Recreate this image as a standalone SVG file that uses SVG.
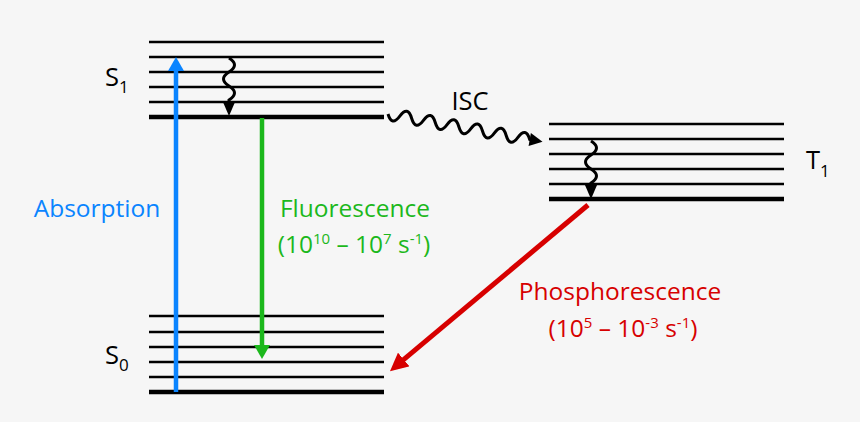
<svg xmlns="http://www.w3.org/2000/svg" width="860" height="422" viewBox="0 0 860 422">
<defs>
<style>
.lv{stroke:#000;stroke-width:2.5;fill:none}
.lv0{stroke:#000;stroke-width:4.5;fill:none}
.txt{font-family:"Open Sans","Noto Sans","Liberation Sans",sans-serif;font-size:24.5px}
.big{font-size:25.5px}
.sub{font-size:17px}
.sup{font-size:15px}
.wave{stroke:#000;stroke-width:3;fill:none}
</style>
<marker id="hb" viewBox="0 0 14 16" refX="1" refY="8" markerWidth="14" markerHeight="16" markerUnits="userSpaceOnUse" orient="auto"><path d="M0,0 L14,8 L0,16 Z" fill="#0a84ff"/></marker>
<marker id="hg" viewBox="0 0 14 16" refX="1" refY="8" markerWidth="14" markerHeight="16" markerUnits="userSpaceOnUse" orient="auto"><path d="M0,0 L14,8 L0,16 Z" fill="#1cb81c"/></marker>
<marker id="hr" viewBox="0 0 18 18" refX="1" refY="9" markerWidth="18" markerHeight="18" markerUnits="userSpaceOnUse" orient="auto"><path d="M0,0 L18,9 L0,18 Z" fill="#d70000"/></marker>
</defs>
<rect width="860" height="422" fill="#f6f6f6"/>

<g id="S1">
<line class="lv" x1="149" y1="42" x2="384" y2="42"/>
<line class="lv" x1="149" y1="57" x2="384" y2="57"/>
<line class="lv" x1="149" y1="72" x2="384" y2="72"/>
<line class="lv" x1="149" y1="87" x2="384" y2="87"/>
<line class="lv" x1="149" y1="102" x2="384" y2="102"/>
<line class="lv0" x1="149" y1="117" x2="384" y2="117"/>
<text class="txt big" x="105" y="86">S<tspan class="sub" dy="7">1</tspan></text>
</g>

<g id="S0">
<line class="lv" x1="149" y1="316" x2="384" y2="316"/>
<line class="lv" x1="149" y1="332" x2="384" y2="332"/>
<line class="lv" x1="149" y1="347" x2="384" y2="347"/>
<line class="lv" x1="149" y1="362" x2="384" y2="362"/>
<line class="lv" x1="149" y1="377" x2="384" y2="377"/>
<line class="lv0" x1="149" y1="392" x2="384" y2="392"/>
<text class="txt big" x="105" y="364">S<tspan class="sub" dy="7">0</tspan></text>
</g>

<g id="T1">
<line class="lv" x1="549" y1="124" x2="784" y2="124"/>
<line class="lv" x1="549" y1="139" x2="784" y2="139"/>
<line class="lv" x1="549" y1="154" x2="784" y2="154"/>
<line class="lv" x1="549" y1="169" x2="784" y2="169"/>
<line class="lv" x1="549" y1="184" x2="784" y2="184"/>
<line class="lv0" x1="549" y1="199" x2="784" y2="199"/>
<text class="txt big" x="806" y="169">T<tspan class="sub" dy="8">1</tspan></text>
</g>

<g id="connectors">
<line x1="176" y1="392" x2="176" y2="70" stroke="#0a84ff" stroke-width="4.5" marker-end="url(#hb)"/>
<line x1="262" y1="118" x2="262" y2="346" stroke="#1cb81c" stroke-width="4.5" marker-end="url(#hg)"/>
<line x1="588" y1="205" x2="403" y2="360.2" stroke="#d70000" stroke-width="5" marker-end="url(#hr)"/>
<g id="vr-S1">
<path class="wave" d="M229,58 q11,7 0,14 t0,14 t0,14 l0,2"/>
<path d="M222.5,101 L235.5,101 L229,116 Z" fill="#000"/>
</g>
<g id="vr-T1">
<path class="wave" d="M591,141 q11,7 0,14 t0,14 t0,14 l0,2"/>
<path d="M584.5,184 L597.5,184 L591,199 Z" fill="#000"/>
</g>
<g id="isc" transform="translate(388,114) rotate(10.2)">
<path class="wave" d="M0,0 q6,12 12,0 t12,0 t12,0 t12,0 t12,0 t12,0 t12,0 t12,0 t12,0 t12,0 t12,0 t12,0 l2,0"/>
<path d="M144,-6.5 L144,6.5 L157,0 Z" fill="#000"/>
</g>
</g>

<g id="labels">
<text class="txt big" x="470" y="110" text-anchor="middle">ISC</text>
<text class="txt" x="97" y="217" text-anchor="middle" fill="#0a84ff">Absorption</text>
<text class="txt" x="355" y="217" text-anchor="middle" fill="#1cb81c">Fluorescence</text>
<text class="txt" x="354" y="253" text-anchor="middle" fill="#1cb81c">(10<tspan class="sup" dy="-9">10</tspan><tspan dy="9"> – 10</tspan><tspan class="sup" dy="-9">7</tspan><tspan dy="9"> s</tspan><tspan class="sup" dy="-9">-1</tspan><tspan dy="9">)</tspan></text>
<text class="txt" x="620" y="300" text-anchor="middle" fill="#d70000">Phosphorescence</text>
<text class="txt" x="623" y="337" text-anchor="middle" fill="#d70000">(10<tspan class="sup" dy="-9">5</tspan><tspan dy="9"> – 10</tspan><tspan class="sup" dy="-9">-3</tspan><tspan dy="9"> s</tspan><tspan class="sup" dy="-9">-1</tspan><tspan dy="9">)</tspan></text>
</g>
</svg>
